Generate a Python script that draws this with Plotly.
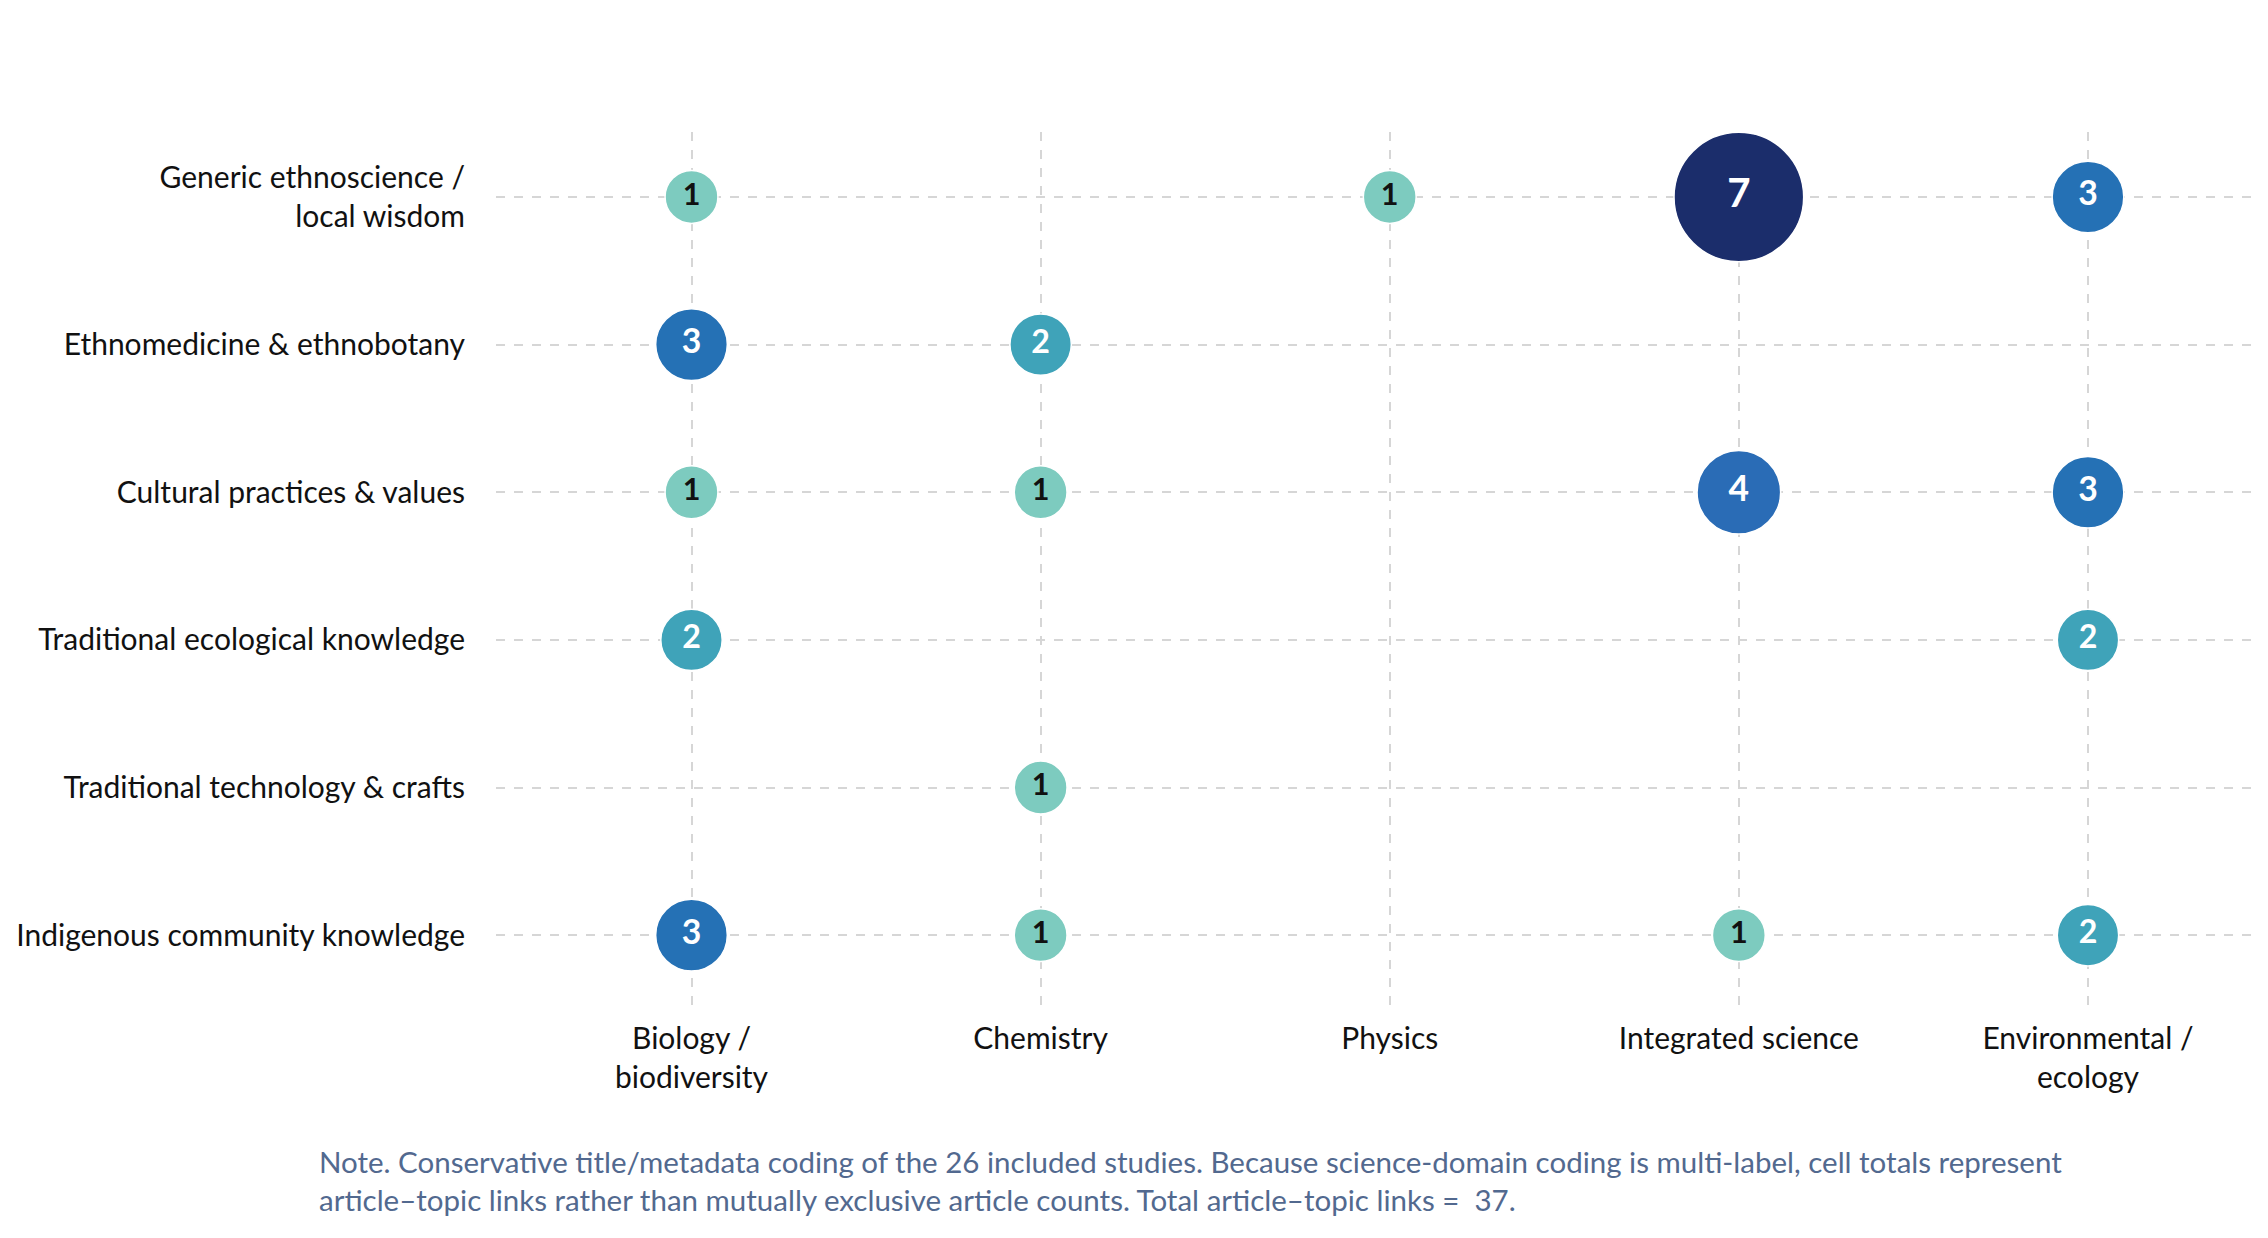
import plotly.graph_objects as go

# science domains (columns) and indigenous-knowledge topics (rows, top to bottom)
domains = ["Biology /<br>biodiversity", "Chemistry", "Physics",
           "Integrated science", "Environmental /<br>ecology"]
topics = ["Generic ethnoscience /<br>local wisdom",
          "Ethnomedicine & ethnobotany",
          "Cultural practices & values",
          "Traditional ecological knowledge",
          "Traditional technology & crafts",
          "Indigenous community knowledge"]

# article-topic links per cell, one list per topic (0 = empty cell)
generic_counts = [1, 0, 1, 7, 3]
ethnomed_counts = [3, 2, 0, 0, 0]
cultural_counts = [1, 1, 0, 4, 3]
tek_counts = [2, 0, 0, 0, 2]
technology_counts = [0, 1, 0, 0, 0]
community_counts = [3, 1, 0, 1, 2]

note = ("Note. Conservative title/metadata coding of the 26 included studies. "
        "Because science-domain coding is multi-label, cell totals represent<br>"
        "article\u2013topic links rather than mutually exclusive article counts. "
        "Total article\u2013topic links =  37.")

rows = [generic_counts, ethnomed_counts, cultural_counts,
        tek_counts, technology_counts, community_counts]

xs, ys, ns = [], [], []
for topic, row in zip(topics, rows):
    for dom, n in zip(domains, row):
        if n > 0:
            xs.append(dom)
            ys.append(topic)
            ns.append(n)

# bubble diameter grows a bit faster than linear with the count
sizes = [46 + 6 * n + 0.85 * n ** 2 for n in ns]
txt_col = ["#111111" if n == 1 else "white" for n in ns]
txt_size = [29 + 1.6 * n for n in ns]

fig = go.Figure()
fig.add_trace(go.Scatter(
    x=xs, y=ys, mode="markers+text",
    text=[str(n) for n in ns],
    textposition="middle center",
    textfont=dict(family="Lato", color=txt_col, size=txt_size, weight="bold"),
    marker=dict(size=sizes, color=ns, cmin=1, cmax=7,
                colorscale=[[0, "#7dcbbf"], [0.167, "#3fa3b9"],
                            [0.333, "#2571b5"], [0.5, "#2a6cb6"],
                            [1, "#1b2d6b"]],
                opacity=1, line=dict(color="white", width=1.5)),
    hoverinfo="skip", showlegend=False,
))

fig.update_xaxes(type="category", categoryorder="array", categoryarray=domains,
                 range=[-0.56, 4.53], showgrid=True, gridcolor="#d6d6d6",
                 gridwidth=1.5, griddash="dash", zeroline=False, showline=False,
                 ticks="", ticklabelstandoff=9,
                 tickfont=dict(family="Lato", size=30, color="#111111"))
fig.update_yaxes(type="category", categoryorder="array", categoryarray=topics,
                 range=[5.5, -0.44], showgrid=True, gridcolor="#d6d6d6",
                 gridwidth=1.5, griddash="dash", zeroline=False, showline=False,
                 ticks="", ticklabelstandoff=30,
                 tickfont=dict(family="Lato", size=30, color="#111111"))

fig.add_annotation(text=note, xref="paper", yref="paper", x=-0.101, y=-0.152,
                   xanchor="left", yanchor="top", align="left", showarrow=False,
                   font=dict(family="Lato", size=29.5, color="#52698f"))

fig.update_layout(width=2268, height=1238, plot_bgcolor="white",
                  paper_bgcolor="white",
                  margin=dict(l=488, r=3, t=124, b=237))

fig.write_html("out.html")
